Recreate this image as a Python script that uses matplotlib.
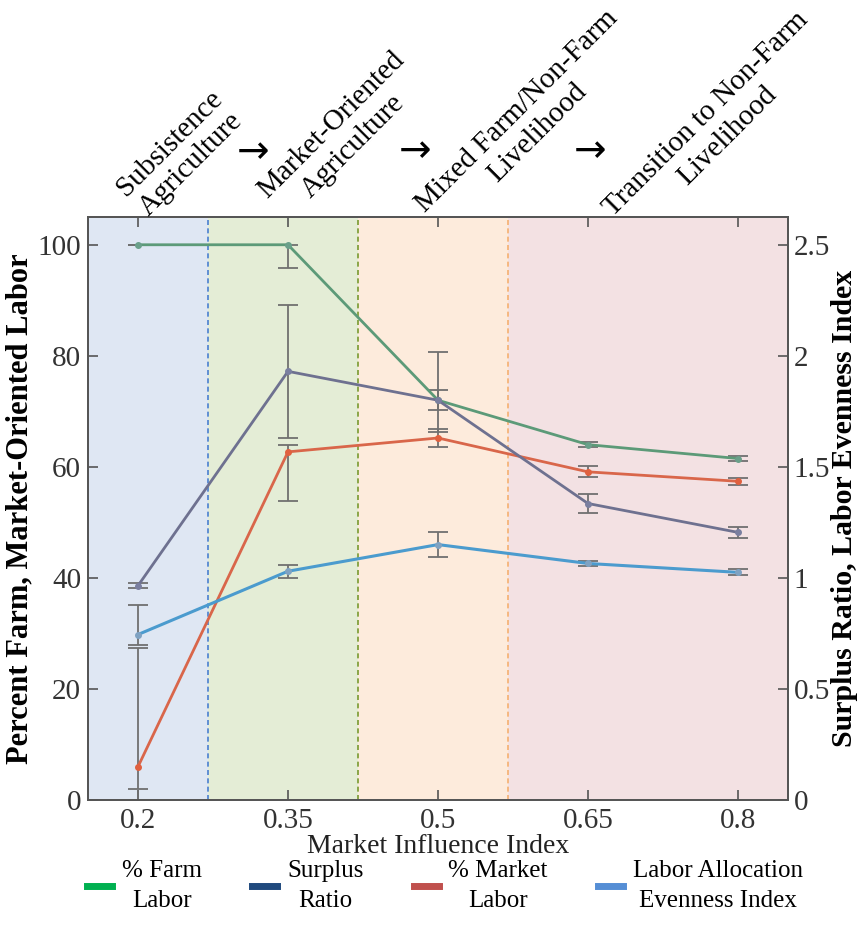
import numpy as np
import matplotlib.pyplot as plt
from matplotlib.lines import Line2D

plt.rcParams['font.family'] = ['Liberation Serif', 'DejaVu Serif']

#%% data
mii = [0.2, 0.35, 0.5, 0.65, 0.8]

farm = [100, 100, 72, 64, 61.5]            # % farm labor (left axis)
farm_lo = [0, 4.2, 1.8, 0.4, 0.4]
farm_hi = [0, 0, 1.8, 0.4, 0.4]

market = [6, 62.7, 65.2, 59.1, 57.4]       # % market labor (left axis)
market_lo = [4.1, 8.9, 1.7, 1.0, 0.6]
market_hi = [21.4, 1.2, 1.7, 1.0, 0.6]

surplus = [0.965, 1.93, 1.80, 1.335, 1.205]   # surplus ratio (right axis)
surplus_lo = [0.01, 0.30, 0.145, 0.045, 0.025]
surplus_hi = [0.01, 0.30, 0.215, 0.045, 0.025]

even = [0.745, 1.03, 1.15, 1.065, 1.025]      # labor evenness (right axis)
even_lo = [0.045, 0.03, 0.055, 0.013, 0.013]
even_hi = [0.135, 0.03, 0.055, 0.013, 0.013]

bands = [0.15, 0.27, 0.42, 0.57, 0.85]
band_cols = ['#dfe7f3', '#e4edd6', '#fdebdc', '#f3e1e3']
edge_cols = ['#4a7fd0', '#7a9a30', '#f5b070']

stages = ['Subsistence\nAgriculture', 'Market-Oriented\nAgriculture',
          'Mixed Farm/Non-Farm\nLivelihood', 'Transition to Non-Farm\nLivelihood']
stage_xy = [(180, 154), (342, 136), (527, 122), (717, 125)]
arrow_xy = [(253, 152), (415, 151), (590, 151)]

leg_labels = ['% Farm\nLabor', 'Surplus\nRatio', '% Market\nLabor', 'Labor Allocation\nEvenness Index']
leg_cols = ['#00b050', '#1f497d', '#c0504d', '#558ed5']

#%% plotting
W, H = 861, 932
fig = plt.figure(figsize=(W/100, H/100), dpi=100, facecolor='white')
ax = fig.add_axes([88/W, 1-800/H, 700/W, 583/H])
ax2 = ax.twinx()

for i in range(4):
    ax.axvspan(bands[i], bands[i+1], color=band_cols[i], lw=0, zorder=0)
for i in range(3):
    ax.axvline(bands[i+1], color=edge_cols[i], ls='--', lw=1.2, dashes=(3, 2), zorder=1)

ebc = '#707070'
ax.errorbar(mii, farm, yerr=[farm_lo, farm_hi], color='#5c9a78', lw=2, marker='o', ms=4,
            mfc='#6aa08a', mec='#6aa08a', ecolor=ebc, elinewidth=1.3, capsize=7, capthick=1.3, zorder=3)
ax.errorbar(mii, market, yerr=[market_lo, market_hi], color='#d9664a', lw=2, marker='o', ms=4,
            mfc='#e0603f', mec='#e0603f', ecolor=ebc, elinewidth=1.3, capsize=7, capthick=1.3, zorder=3)
ax2.errorbar(mii, surplus, yerr=[surplus_lo, surplus_hi], color='#6e7190', lw=2, marker='o', ms=4,
             mfc='#7a7fa0', mec='#7a7fa0', ecolor=ebc, elinewidth=1.3, capsize=7, capthick=1.3, zorder=3)
ax2.errorbar(mii, even, yerr=[even_lo, even_hi], color='#4b9bce', lw=2.2, marker='o', ms=4,
             mfc='#7fa2c2', mec='#7fa2c2', ecolor=ebc, elinewidth=1.3, capsize=7, capthick=1.3, zorder=3)

ax.set_xlim(0.15, 0.85)
ax.set_ylim(0, 105)
ax2.set_ylim(0, 105/40)
ax.set_xticks(mii)
ax.set_xticklabels(['0.2', '0.35', '0.5', '0.65', '0.8'])
ax.set_yticks([0, 20, 40, 60, 80, 100])
ax2.set_yticks([0, 0.5, 1, 1.5, 2, 2.5])
ax2.set_yticklabels(['0', '0.5', '1', '1.5', '2', '2.5'])

for a in (ax, ax2):
    for s in a.spines.values():
        s.set_color('#555555')
        s.set_linewidth(1.3)
ax.tick_params(axis='x', direction='in', top=True, length=7, width=1.2, color='#555555',
               labelsize=21, labelcolor='#333333', pad=6)
ax.tick_params(axis='y', direction='in', length=7, width=1.2, color='#555555',
               labelsize=21, labelcolor='#333333', pad=5)
ax2.tick_params(axis='y', direction='in', length=7, width=1.2, color='#555555',
                labelsize=21, labelcolor='#333333', pad=4)

ax.set_xlabel('Market Influence Index', fontsize=20, color='#222222', labelpad=0)
ax.set_ylabel('Percent Farm, Market-Oriented Labor', fontsize=22, fontweight='bold', labelpad=2)
ax2.set_ylabel('Surplus Ratio, Labor Evenness Index', fontsize=21.5, fontweight='bold', labelpad=1)

for lab, (x, y) in zip(stages, stage_xy):
    fig.text(x/W, 1-y/H, lab, rotation=45, ha='center', va='center', multialignment='center',
             fontsize=21, color='black')
for (x, y) in arrow_xy:
    fig.text(x/W, 1-y/H, '\u2192', ha='center', va='center', fontsize=28,
             family=['DejaVu Sans'])

handles = [Line2D([], [], color=c, lw=5) for c in leg_cols]
leg = fig.legend(handles, leg_labels, loc='center', bbox_to_anchor=(445/W, 1-886/H), ncol=4,
                 frameon=False, fontsize=18, handlelength=1.0, handletextpad=0.4,
                 columnspacing=2.0)
for t in leg.get_texts():
    t.set_multialignment('center')
    t.set_linespacing(1.5)

fig.savefig('out.png', dpi=100)
